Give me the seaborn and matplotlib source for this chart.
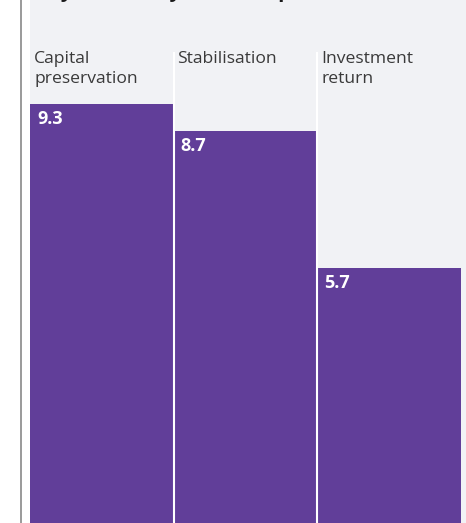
import matplotlib
matplotlib.use("Agg")
import matplotlib.pyplot as plt
from matplotlib.lines import Line2D
import seaborn as sns

categories = ["Capital\npreservation", "Stabilisation", "Investment\nreturn"]
values = [9.3, 8.7, 5.7]
title = "Key factors by mean importance"

PURPLE = "#613E99"
PANEL = "#F1F2F5"
TEXT = "#3A3A3A"

plt.rcParams["font.family"] = ["Open Sans", "DejaVu Sans"]

W, H, DPI = 466, 523, 100
fig = plt.figure(figsize=(W / DPI, H / DPI), dpi=DPI)
fig.patch.set_facecolor("white")

# the plot area starts at x=30 px; the zero baseline sits just below the bottom edge
ax = fig.add_axes([30 / W, -5 / H, (W - 30) / W, 528 / H])
ax.set_facecolor(PANEL)

sns.barplot(x=categories, y=values, color=PURPLE, saturation=1, width=1.0,
            edgecolor="none", linewidth=0, ax=ax, zorder=2)

ax.set_xlim(-0.5, 2.538)
ax.set_ylim(0, 11.58)
for s in ax.spines.values():
    s.set_visible(False)
ax.set_xticks([])
ax.set_yticks([])
ax.set_xlabel("")
ax.set_ylabel("")

# white separators between the columns
ax.vlines([0.5, 1.5], 0, 10.44, colors="white", linewidth=1.5, zorder=3)

# column headings
for i, cat in enumerate(categories):
    ax.annotate(cat, xy=(i - 0.5, 10.47), xytext=(4, 0), textcoords="offset pixels",
                ha="left", va="top", fontsize=12.6, color=TEXT, linespacing=1.35,
                zorder=4)

# value labels inside the top of each bar
for patch, v in zip(ax.patches, values):
    ax.annotate(f"{v}", xy=(patch.get_x(), patch.get_height()), xytext=(7, -6),
                textcoords="offset pixels", ha="left", va="top", fontsize=13,
                fontweight="bold", color="white", zorder=4)

# chart title, mostly above the visible area
fig.text(35 / W, (H + 2.5) / H, title, ha="left", va="baseline", fontsize=15,
         fontweight="bold", color="#1A1A1A")

# left rule
fig.add_artist(Line2D([20.5 / W, 20.5 / W], [0, 1], transform=fig.transFigure,
                      color="#9A9A9A", linewidth=1.4))

fig.savefig("out.png", dpi=DPI)
